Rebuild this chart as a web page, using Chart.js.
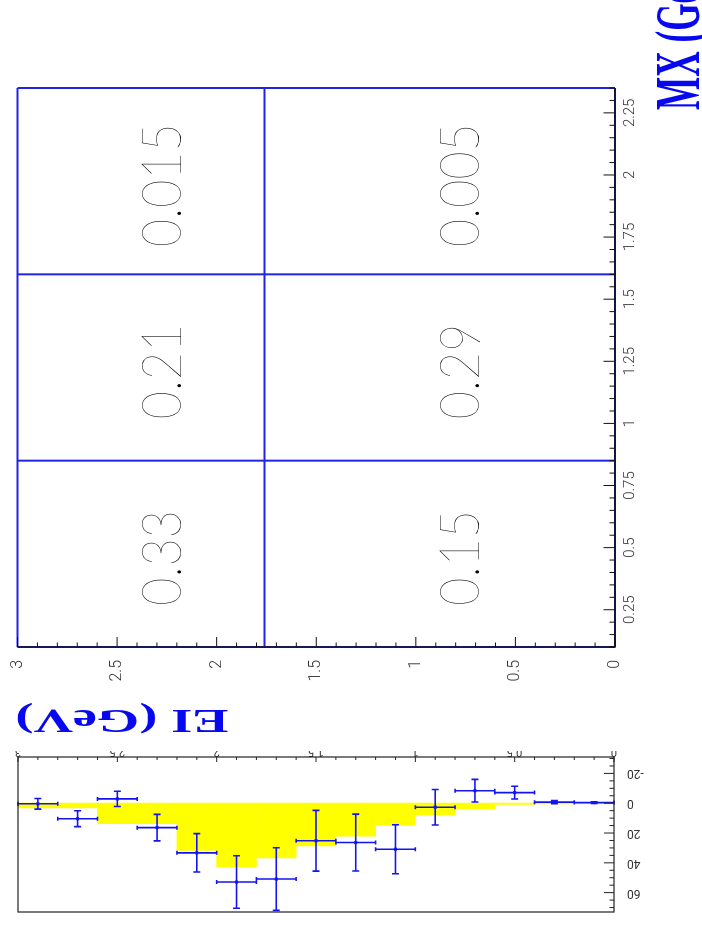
<!DOCTYPE html>
<html>
<head>
<meta charset="utf-8">
<script src="https://cdn.jsdelivr.net/npm/chart.js@4.4.1/dist/chart.umd.min.js"></script>
<style>
  html, body { margin: 0; padding: 0; background: #ffffff; width: 702px; height: 930px; overflow: hidden; }
  #stage { position: relative; width: 702px; height: 930px; overflow: hidden; background: #ffffff; }
  #mainWrap { position: absolute; left: 0; top: 0; width: 930px; height: 702px;
              transform-origin: 0 0; transform: translate(0px, 930px) rotate(-90deg); }
  #insetWrap { position: absolute; left: 0; top: 751px; width: 702px; height: 179px;
               transform-origin: 50% 50%; transform: rotate(180deg); }
  canvas { display: block; }
</style>
</head>
<body>
<div id="stage">
  <div id="mainWrap"><canvas id="main" width="930" height="702"></canvas></div>
  <div id="insetWrap"><canvas id="inset" width="702" height="179"></canvas></div>
</div>
<script>
// ---------------- data ----------------
// 2D map: bin edges and cell contents
const mxEdges = [0.1, 0.85, 1.6, 2.35];          // MX (GeV) bin edges
const eiEdges = [0, 1.76, 3];                    // EI (GeV) bin edges
const valuesLowEI  = [0.15, 0.29, 0.005];        // EI 0 - 1.76, per MX bin
const valuesHighEI = [0.33, 0.21, 0.015];        // EI 1.76 - 3, per MX bin
const mxTickLabels = [0.25, 0.5, 0.75, 1, 1.25, 1.5, 1.75, 2, 2.25];
const eiTickLabels = [0, 0.5, 1, 1.5, 2, 2.5, 3];
const xTitle = 'MX (GeV)';
const yTitle = 'EI (GeV)';

// EI projection histogram (inset)
const eiBinCenters = [0.1, 0.3, 0.5, 0.7, 0.9, 1.1, 1.3, 1.5, 1.7, 1.9, 2.1, 2.3, 2.5, 2.7, 2.9];
const eiBinWidth = 0.2;
const mcCounts   = [0, 0.4, 0.9, 3.8, 7.8, 14.9, 22.2, 28.7, 36.7, 42.7, 31.6, 13.8, 13.8, 3.1, 3.1];
const dataCounts = [-0.4, -0.7, -7.1, -8.4, 2.7, 30.9, 26.4, 25.2, 50.9, 52.9, 33.3, 16.4, -2.9, 10.4, 0.4];
const dataErrors = [0.5, 1.1, 4.3, 7.6, 11.9, 16.4, 19.1, 20.4, 21.0, 17.6, 12.9, 8.9, 5.1, 5.3, 3.6];
const countTickLabels = [-20, 0, 20, 40, 60];

// ---------------- styling ----------------
const BLUE = '#2323e4';
const PT_BLUE = '#1414f0';
const TITLE_BLUE = '#0808f0';
const LABEL_FONT = "Roboto, 'Liberation Sans', sans-serif";
const CELL_FONT = "Lato, Roboto, 'Liberation Sans', sans-serif";
const SERIF = "'Liberation Serif', 'DejaVu Serif', serif";

function steps(min, max, step) {
  const out = [];
  for (let k = Math.ceil(min / step - 1e-9); k * step <= max + 1e-9; k++) out.push(+(k * step).toFixed(6));
  return out;
}
function isIn(v, arr) { return arr.some(a => Math.abs(a - v) < 1e-6); }

// ---------------- main 2D map (drawn upright, turned by CSS) ----------------
const boundaryDatasets = [];
mxEdges.forEach(m => boundaryDatasets.push({ data: [{ x: m, y: eiEdges[0] }, { x: m, y: eiEdges[eiEdges.length - 1] }] }));
eiEdges.forEach(e => boundaryDatasets.push({ data: [{ x: mxEdges[0], y: e }, { x: mxEdges[mxEdges.length - 1], y: e }] }));
boundaryDatasets.forEach(d => Object.assign(d, {
  showLine: true, borderColor: BLUE, borderWidth: 2, pointRadius: 0, pointHoverRadius: 0, clip: false
}));

const mainDecor = {
  id: 'mainDecor',
  afterDatasetsDraw(chart) {
    const { ctx, chartArea: a, scales: { x, y } } = chart;
    ctx.save();
    // axis lines
    ctx.strokeStyle = '#111'; ctx.lineWidth = 1.3;
    ctx.beginPath(); ctx.moveTo(a.left, a.top); ctx.lineTo(a.left, a.bottom); ctx.lineTo(a.right, a.bottom); ctx.stroke();
    // inside tick marks
    ctx.lineWidth = 1; ctx.beginPath();
    steps(y.min, y.max, 0.1).forEach(v => {
      const p = y.getPixelForValue(v); const L = isIn(v, eiTickLabels) ? 10 : 4.5;
      ctx.moveTo(a.left, p); ctx.lineTo(a.left + L, p);
    });
    steps(x.min, x.max, 0.05).forEach(v => {
      const p = x.getPixelForValue(v); const L = isIn(v, mxTickLabels) ? 11.5 : 5.5;
      ctx.moveTo(p, a.bottom); ctx.lineTo(p, a.bottom - L);
    });
    ctx.stroke();
    // cell contents
    const rows = [valuesLowEI, valuesHighEI];
    ctx.fillStyle = '#000'; ctx.font = '200 50px ' + CELL_FONT;
    ctx.textAlign = 'center'; ctx.textBaseline = 'alphabetic';
    const asc = ctx.measureText('0').actualBoundingBoxAscent;
    rows.forEach((row, j) => {
      const v = y.getPixelForValue((eiEdges[j] + eiEdges[j + 1]) / 2);
      row.forEach((val, i) => {
        const u = x.getPixelForValue((mxEdges[i] + mxEdges[i + 1]) / 2);
        ctx.save(); ctx.translate(u - 4, v); ctx.scale(0.97, 1.13); ctx.fillText(String(val), 0, asc); ctx.restore();
      });
    });
    // axis titles
    ctx.fillStyle = TITLE_BLUE; ctx.textAlign = 'left'; ctx.textBaseline = 'alphabetic';
    ctx.font = 'bold 64px ' + SERIF;
    ctx.save(); ctx.translate(a.right - 22, chart.height - 3); ctx.scale(0.55, 1); ctx.fillText(xTitle, 0, 0); ctx.restore();
    ctx.font = 'bold 33px ' + SERIF;
    const w = ctx.measureText(yTitle).width; const targetLen = 213;
    ctx.save(); ctx.translate(a.left - 63, a.top + targetLen - 2); ctx.rotate(-Math.PI / 2);
    ctx.scale(targetLen / w, 1); ctx.fillText(yTitle, 0, 0); ctx.restore();
    ctx.restore();
  }
};

new Chart(document.getElementById('main'), {
  type: 'scatter',
  data: { datasets: boundaryDatasets },
  options: {
    responsive: false, animation: false, devicePixelRatio: 1, events: [],
    layout: { padding: { left: 0, right: 88, top: 17.5, bottom: 0 } },
    plugins: { legend: { display: false }, tooltip: { enabled: false } },
    scales: {
      x: { type: 'linear', position: 'bottom', min: mxEdges[0], max: mxEdges[mxEdges.length - 1],
        afterBuildTicks: s => { s.ticks = mxTickLabels.map(v => ({ value: v })); },
        ticks: { callback: v => String(v), font: { family: LABEL_FONT, size: 15, weight: 300 }, color: '#333',
                 padding: 0, maxRotation: 0, minRotation: 0, autoSkip: false },
        grid: { display: false, drawTicks: true, tickLength: 6 }, border: { display: false },
        afterFit: s => { s.height = 87; } },
      y: { type: 'linear', position: 'left', min: eiEdges[0], max: eiEdges[eiEdges.length - 1],
        afterBuildTicks: s => { s.ticks = eiTickLabels.map(v => ({ value: v })); },
        ticks: { callback: v => String(v), font: { family: LABEL_FONT, size: 16, weight: 300, lineHeight: 1 }, color: '#333',
                 padding: 0, autoSkip: false },
        grid: { display: false, drawTicks: true, tickLength: 13 }, border: { display: false },
        afterFit: s => { s.width = 283; } }
    }
  },
  plugins: [mainDecor]
});

// ---------------- inset EI projection (drawn upright, turned 180deg by CSS) ----------------
const insetDecor = {
  id: 'insetDecor',
  afterDatasetsDraw(chart) {
    const { ctx, chartArea: a, scales: { x, y } } = chart;
    ctx.save();
    // error bars
    ctx.strokeStyle = PT_BLUE; ctx.lineWidth = 1.6; ctx.beginPath();
    eiBinCenters.forEach((c, i) => {
      const px = x.getPixelForValue(c), py = y.getPixelForValue(dataCounts[i]);
      const xl = x.getPixelForValue(c - eiBinWidth / 2), xr = x.getPixelForValue(c + eiBinWidth / 2);
      const yt = y.getPixelForValue(dataCounts[i] + dataErrors[i]), yb = y.getPixelForValue(dataCounts[i] - dataErrors[i]);
      ctx.moveTo(xl, py); ctx.lineTo(xr, py);
      ctx.moveTo(xl, py - 2); ctx.lineTo(xl, py + 2); ctx.moveTo(xr, py - 2); ctx.lineTo(xr, py + 2);
      ctx.moveTo(px, yt); ctx.lineTo(px, yb);
      ctx.moveTo(px - 3.5, yt); ctx.lineTo(px + 3.5, yt); ctx.moveTo(px - 3.5, yb); ctx.lineTo(px + 3.5, yb);
    });
    ctx.stroke();
    // frame
    ctx.strokeStyle = '#222'; ctx.lineWidth = 1.2;
    ctx.strokeRect(a.left, a.top, a.right - a.left, a.bottom - a.top);
    // inside tick marks
    ctx.lineWidth = 1; ctx.beginPath();
    steps(y.min, y.max, 5).forEach(v => {
      const p = y.getPixelForValue(v); const L = isIn(v, countTickLabels) ? 10 : 4.5;
      ctx.moveTo(a.left, p); ctx.lineTo(a.left + L, p);
    });
    steps(x.min, x.max, 0.1).forEach(v => {
      const p = x.getPixelForValue(v); const L = isIn(v, eiTickLabels) ? 5 : 3;
      ctx.moveTo(p, a.bottom); ctx.lineTo(p, a.bottom - L);
    });
    ctx.stroke();
    ctx.restore();
  }
};

new Chart(document.getElementById('inset'), {
  type: 'bar',
  data: { datasets: [
    { type: 'bar', data: eiBinCenters.map((c, i) => ({ x: c, y: mcCounts[i] })),
      backgroundColor: '#ffff00', borderWidth: 0, barPercentage: 1, categoryPercentage: 1, order: 2 },
    { type: 'scatter', data: eiBinCenters.map((c, i) => ({ x: c, y: dataCounts[i] })),
      pointStyle: 'rect', pointRadius: 2.2, pointHoverRadius: 0, backgroundColor: PT_BLUE, borderColor: PT_BLUE,
      borderWidth: 0, order: 1 }
  ] },
  options: {
    responsive: false, animation: false, devicePixelRatio: 1, events: [],
    layout: { padding: { left: 0, right: 18, top: 18, bottom: 0 } },
    plugins: { legend: { display: false }, tooltip: { enabled: false } },
    scales: {
      x: { type: 'linear', position: 'bottom', min: 0, max: 3, offset: false,
        afterBuildTicks: s => { s.ticks = eiTickLabels.map(v => ({ value: v })); },
        ticks: { callback: v => String(v), font: { family: LABEL_FONT, size: 11, lineHeight: 1 }, color: '#333',
                 padding: 0, maxRotation: 0, minRotation: 0, autoSkip: false },
        grid: { display: false, drawTicks: false }, border: { display: false },
        afterFit: s => { s.height = 6; } },
      y: { type: 'linear', position: 'left', min: -31, max: 73,
        afterBuildTicks: s => { s.ticks = countTickLabels.map(v => ({ value: v })); },
        ticks: { callback: v => String(v), font: { family: LABEL_FONT, size: 12, lineHeight: 1 }, color: '#333',
                 padding: 0, autoSkip: false },
        grid: { display: false, drawTicks: true, tickLength: 13 }, border: { display: false },
        afterFit: s => { s.width = 88; } }
    }
  },
  plugins: [insetDecor]
});
</script>
</body>
</html>
